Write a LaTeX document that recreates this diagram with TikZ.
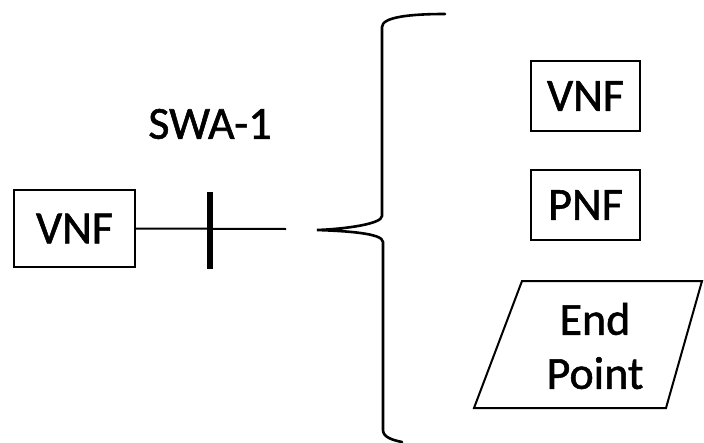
\documentclass[tikz,border=0pt]{standalone}
\usepackage{fontspec}
\setmainfont{Carlito}
\newfontfamily\semib{Carlito}[FakeBold=1.2]
\usetikzlibrary{shapes.geometric}
\begin{document}
\begin{tikzpicture}[x=1pt,y=-1pt,
  lbl/.style={font=\semib\fontsize{46}{52}\selectfont},
  boxnode/.style={draw,line width=2pt,inner sep=0pt,lbl}]
\useasboundingbox (0,0) rectangle (704,442);
% left VNF
\node[boxnode,minimum width=121pt,minimum height=77pt] (vnfL) at (74.5,228.5) {VNF};
\coordinate (lineEnd) at (286,229);
\draw[line width=2pt] (vnfL.east) -- (lineEnd);
\coordinate (tickTop) at (210,192);
\coordinate (tickBot) at (210,269);
\draw[line width=6pt] (tickTop) -- (tickBot);
\node[lbl] (swa) at (210,124) {SWA-1};
% brace
\draw[line width=2.6pt,line cap=round]
  (445,14) .. controls (410,14) and (382,17) .. (382,27)
  -- (382,216) .. controls (382,224) and (345,229) .. (317,230)
  .. controls (345,231) and (383,233) .. (383,242)
  -- (383,430) .. controls (383,437) and (392,440) .. (402,442);
% right column
\node[boxnode,minimum width=109pt,minimum height=70pt] (vnfR) at (585.5,96) {VNF};
\node[boxnode,minimum width=109pt,minimum height=70pt] (pnf) at (585.5,205) {PNF};
\coordinate (p1) at (522,281);
\coordinate (p2) at (702,281);
\coordinate (p3) at (666,408);
\coordinate (p4) at (474,408);
\draw[line width=2pt,line join=miter] (p1) -- (p2) -- (p3) -- (p4) -- cycle;
\node[lbl,align=center] (ep) at (595,346) {End\\[2pt]Point};
\end{tikzpicture}
\end{document}
